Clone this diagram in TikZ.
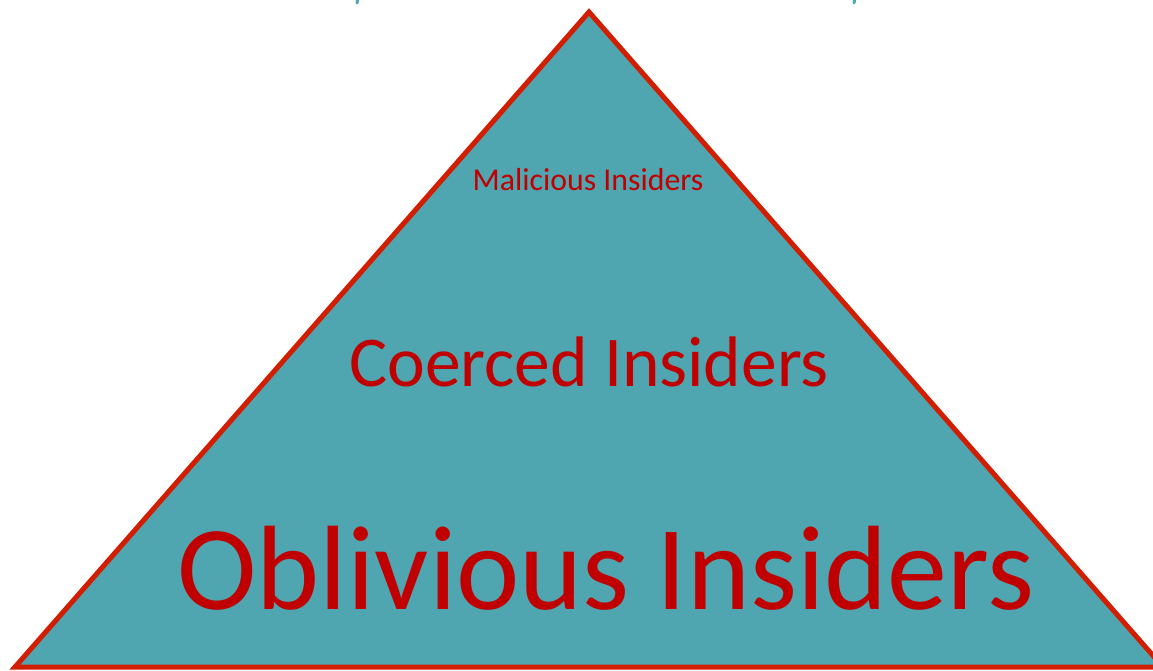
\documentclass[tikz,border=0pt]{standalone}
\usepackage{fontspec}
\setmainfont{Carlito}
\definecolor{tealfill}{RGB}{79,165,176}
\definecolor{edgered}{RGB}{210,30,0}
\definecolor{textred}{RGB}{192,0,0}
\begin{document}
\begin{tikzpicture}[x=1pt,y=-1pt,
  tri/.style={fill=tealfill,draw=edgered,line width=5pt,line join=miter},
  lbl/.style={text=textred,anchor=base,inner sep=0pt},
  frag/.style={draw=tealfill,line width=3pt,line cap=round}]
\useasboundingbox (0,0) rectangle (1153,670);
\begin{scope}
\clip (0,0) rectangle (1153,670);
\coordinate (apex) at (589,12);
\coordinate (bl) at (15,667);
\coordinate (br) at (1163,667);
\draw[tri] (apex) -- (bl) -- (br) -- cycle;
\draw[frag] (358,-2) -- (357,3);
\draw[frag] (855,-2) -- (854,3);
\end{scope}
\node[lbl,font=\fontsize{31.8}{36}\selectfont] (mal) at (588,190) {Malicious Insiders};
\node[lbl,font=\fontsize{71.5}{80}\selectfont] (coe) at (589,386) {Coerced Insiders};
\node[lbl,font=\fontsize{120}{130}\selectfont] (obl) at (606,609) {Oblivious Insiders};
\end{tikzpicture}
\end{document}
